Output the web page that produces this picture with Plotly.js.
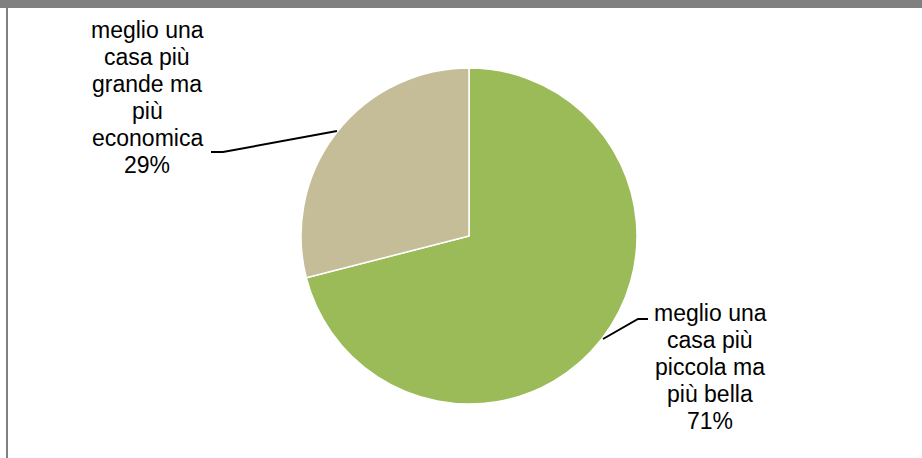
<!DOCTYPE html>
<html>
<head>
<meta charset="utf-8">
<script src="https://cdn.plot.ly/plotly-3.0.1.min.js"></script>
<style>
  html, body { margin: 0; padding: 0; background: #ffffff; }
  #chart { width: 922px; height: 458px; }
</style>
</head>
<body>
<div id="chart"></div>
<script>
// ---- data ----
const categories = [
  "meglio una|casa più|piccola ma|più bella",
  "meglio una|casa più|grande ma|più|economica"
];
const values = [71, 29];
const colors = ["#9BBB59", "#C4BD97"];

// ---- layout helpers (pixel -> paper) ----
const W = 922, H = 458;
const px = x => x / W;
const py = y => 1 - y / H;

const cx = 469, cy = 236, R = 168;

// label anchor positions (center x, first line y) per slice
const labelPos = [
  { x: 710, y: 313 },
  { x: 147, y: 30 }
];
const lineStep = 27;

const total = values.reduce((a, b) => a + b, 0);
const annotations = [];
categories.forEach((cat, i) => {
  const lines = cat.split("|");
  lines.push(Math.round(values[i] / total * 100) + "%");
  lines.forEach((t, k) => {
    annotations.push({
      text: t, showarrow: false,
      xref: "paper", yref: "paper",
      x: px(labelPos[i].x), y: py(labelPos[i].y + k * lineStep),
      xanchor: "center", yanchor: "middle",
      font: { family: "Liberation Sans, Arial, sans-serif", size: 23, color: "#000000" }
    });
  });
});

// leader lines
const leaders = [
  [[648, 319], [638, 319], [603, 339]],
  [[211, 152], [223, 152], [337, 131]]
];
const shapes = leaders.map(pts => ({
  type: "path", xref: "paper", yref: "paper",
  path: pts.map((p, k) => (k ? "L" : "M") + px(p[0]) + "," + py(p[1])).join(" "),
  line: { color: "#000000", width: 2 }
}));
// frame: top gray bar and left gray line
shapes.push({ type: "rect", xref: "paper", yref: "paper", x0: 0, x1: 1, y0: py(8), y1: 1,
  fillcolor: "#808080", line: { width: 0 } });
shapes.push({ type: "rect", xref: "paper", yref: "paper", x0: px(6), x1: px(8), y0: 0, y1: py(8),
  fillcolor: "#808080", line: { width: 0 } });

const trace = {
  type: "pie",
  labels: categories.map(c => c.replace(/\|/g, " ")),
  values: values,
  sort: false,
  direction: "clockwise",
  rotation: 0,
  textinfo: "none",
  hoverinfo: "label+percent",
  marker: { colors: colors, line: { color: "#ffffff", width: 1.5 } },
  domain: { x: [px(cx - R), px(cx + R)], y: [py(cy + R), py(cy - R)] },
  showlegend: false
};

Plotly.newPlot("chart", [trace], {
  width: W, height: H,
  margin: { l: 0, r: 0, t: 0, b: 0 },
  paper_bgcolor: "#ffffff",
  plot_bgcolor: "#ffffff",
  showlegend: false,
  annotations: annotations,
  shapes: shapes
}, { displayModeBar: false, staticPlot: true });
</script>
</body>
</html>
